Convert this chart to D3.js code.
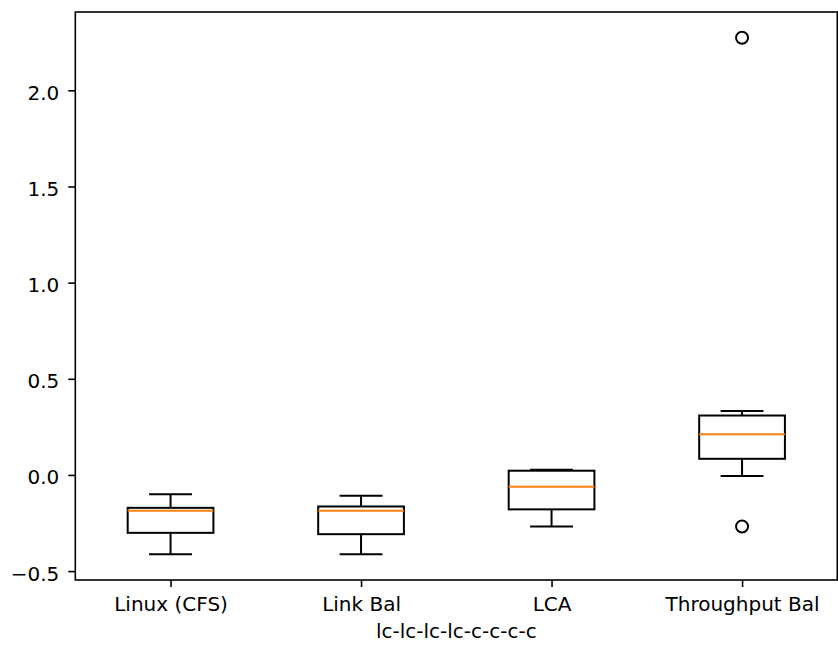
<!doctype html>
<html lang="en">
<head>
<meta charset="utf-8">
<title>Boxplot</title>
<script src="https://cdn.jsdelivr.net/npm/d3@7/dist/d3.min.js"></script>
<style>
	body { margin: 0; background: #fff; }
	svg { display: block; }
	text { font-family: "DejaVu Sans", sans-serif; fill: #000; }
	.axis path.domain { display: none; }
	.axis line { stroke: #000; stroke-width: 1.6px; }
	.axis text { font-size: 20px; }
</style>
</head>
<body>
<div id="viz"></div>
<script>

// schedulers on the x axis
var categories = ["Linux (CFS)", "Link Bal", "LCA", "Throughput Bal"];

// box statistics
var whiskerLow  = [-0.412, -0.412, -0.268, -0.006];
var q1          = [-0.301, -0.308, -0.179, 0.084];
var medians     = [-0.186, -0.186, -0.061, 0.212];
var q3          = [-0.171, -0.164, 0.022, 0.309];
var whiskerHigh = [-0.100, -0.108, 0.027, 0.332];
// fliers: [box index, value]
var outliers = [[3, 2.273], [3, -0.268]];

var yTicks = [-0.5, 0.0, 0.5, 1.0, 1.5, 2.0];
var xLabel = "lc-lc-lc-lc-c-c-c-c";

(function(d3) {

	var w = 838,
		h = 647;
	var margin = {top: 12, right: 0.7, bottom: 67, left: 75.3};
	var width = w - margin.left - margin.right,
		height = h - margin.top - margin.bottom;

	// matplotlib style 5% padding around the data
	var lo = d3.min(whiskerLow.concat(outliers.map(d => d[1]))),
		hi = d3.max(whiskerHigh.concat(outliers.map(d => d[1])));
	var pad = (hi - lo) * 0.05;

	var xScale = d3.scaleLinear()
		.domain([0.5, categories.length + 0.5])
		.range([0, width]);

	var yScale = d3.scaleLinear()
		.domain([lo - pad, hi + pad])
		.range([height, 0]);

	var boxW = 0.45, capW = boxW / 2;

	var svg = d3.select("#viz")
		.append("svg")
		.attr("width", w)
		.attr("height", h);

	var g = svg.append("g")
		.attr("transform", "translate(" + margin.left + "," + margin.top + ")");

	var yAxis = d3.axisLeft(yScale)
		.tickValues(yTicks)
		.tickSize(7)
		.tickPadding(9)
		.tickFormat(d3.format(".1f"));

	g.append("g")
		.attr("class", "axis")
		.call(yAxis)
		.selectAll("text")
		.attr("dy", "0.45em");

	var xAxis = d3.axisBottom(xScale)
		.tickValues(d3.range(1, categories.length + 1))
		.tickSize(7)
		.tickPadding(10)
		.tickFormat((d, i) => categories[i]);

	g.append("g")
		.attr("class", "axis")
		.attr("transform", "translate(0," + height + ")")
		.call(xAxis);

	var boxes = g.selectAll("g.box")
		.data(categories)
		.enter()
		.append("g")
		.attr("class", "box");

	// whiskers
	boxes.append("line")
		.attr("x1", (d, i) => xScale(i + 1))
		.attr("x2", (d, i) => xScale(i + 1))
		.attr("y1", (d, i) => yScale(whiskerLow[i]))
		.attr("y2", (d, i) => yScale(q1[i]));
	boxes.append("line")
		.attr("x1", (d, i) => xScale(i + 1))
		.attr("x2", (d, i) => xScale(i + 1))
		.attr("y1", (d, i) => yScale(q3[i]))
		.attr("y2", (d, i) => yScale(whiskerHigh[i]));

	// caps
	boxes.append("line")
		.attr("x1", (d, i) => xScale(i + 1 - capW / 2))
		.attr("x2", (d, i) => xScale(i + 1 + capW / 2))
		.attr("y1", (d, i) => yScale(whiskerLow[i]))
		.attr("y2", (d, i) => yScale(whiskerLow[i]));
	boxes.append("line")
		.attr("x1", (d, i) => xScale(i + 1 - capW / 2))
		.attr("x2", (d, i) => xScale(i + 1 + capW / 2))
		.attr("y1", (d, i) => yScale(whiskerHigh[i]))
		.attr("y2", (d, i) => yScale(whiskerHigh[i]));

	boxes.selectAll("line")
		.style("stroke", "#000")
		.style("stroke-width", 2);

	// box
	boxes.append("rect")
		.attr("x", (d, i) => xScale(i + 1 - boxW / 2))
		.attr("width", (d, i) => xScale(i + 1 + boxW / 2) - xScale(i + 1 - boxW / 2))
		.attr("y", (d, i) => yScale(q3[i]))
		.attr("height", (d, i) => yScale(q1[i]) - yScale(q3[i]))
		.style("fill", "none")
		.style("stroke", "#000")
		.style("stroke-width", 2);

	// median
	boxes.append("line")
		.attr("x1", (d, i) => xScale(i + 1 - boxW / 2))
		.attr("x2", (d, i) => xScale(i + 1 + boxW / 2))
		.attr("y1", (d, i) => yScale(medians[i]))
		.attr("y2", (d, i) => yScale(medians[i]))
		.style("stroke", "#ff7f0e")
		.style("stroke-width", 2);

	// fliers
	g.selectAll("circle.flier")
		.data(outliers)
		.enter()
		.append("circle")
		.attr("class", "flier")
		.attr("cx", d => xScale(d[0] + 1))
		.attr("cy", d => yScale(d[1]))
		.attr("r", 6)
		.style("fill", "none")
		.style("stroke", "#000")
		.style("stroke-width", 2);

	// spines
	g.append("rect")
		.attr("width", width)
		.attr("height", height)
		.style("fill", "none")
		.style("stroke", "#000")
		.style("stroke-width", 1.6);

	g.append("text")
		.attr("x", width / 2)
		.attr("y", height + 58)
		.attr("text-anchor", "middle")
		.style("font-size", "20px")
		.text(xLabel);

})(d3);

</script>
</body>
</html>
